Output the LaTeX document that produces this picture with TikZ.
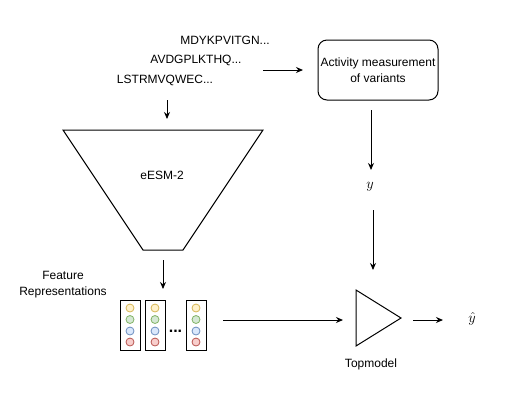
\documentclass[tikz,border=0pt]{standalone}
\usepackage{fontspec}
\setmainfont{Liberation Sans}
\usetikzlibrary{arrows.meta}
\definecolor{dotyellow}{RGB}{255,242,204}
\definecolor{dotyellowline}{RGB}{214,182,86}
\definecolor{dotgreen}{RGB}{213,232,212}
\definecolor{dotgreenline}{RGB}{130,179,102}
\definecolor{dotblue}{RGB}{218,232,252}
\definecolor{dotblueline}{RGB}{108,142,191}
\definecolor{dotred}{RGB}{248,206,204}
\definecolor{dotredline}{RGB}{184,84,80}

\begin{document}
\begin{tikzpicture}[x=1pt, y=-1pt, line width=1pt,
    every node/.style={font=\fontsize{12}{16}\selectfont, inner sep=0pt},
    flow/.style={-{Stealth[length=7pt,width=6pt]}},
    mathlabel/.style={font=\fontsize{14}{16}\selectfont},
    vecbox/.style={draw, minimum width=20pt, minimum height=50pt},
    dot/.style={circle, draw=#1line, fill=#1, line width=0.8pt, minimum size=8pt}]
    \useasboundingbox (0,0) rectangle (524,400);

    % === Input sequences ===
    \node (s1) at (225,40) {MDYKPVITGN...};
    \node (s2) at (196,60) {AVDGPLKTHQ...};
    \node (s3) at (165,80) {LSTRMVQWEC...};

    % === Activity measurement ===
    \node[draw,rounded corners=9pt,minimum width=120pt,minimum height=60pt,align=center] (act) at (378,70) {Activity measurement\\of variants};
    \coordinate (seqout) at (263,70);
    \coordinate (actin) at (303,70);
    \draw[flow] (seqout) -- (actin);

    % === eESM-2 encoder ===
    \draw (63,130) -- (263,130) -- (183,250) -- (143,250) -- cycle;
    \node (esm) at (162,175) {eESM-2};
    \coordinate (seqdown) at (167,100);
    \coordinate (esmin) at (167,119);
    \draw[flow] (seqdown) -- (esmin);

    % === Feature representations ===
    \node[align=center] (feat) at (63,285) {Feature\\Representations};
    \foreach \x/\n in {130/1,155/2,196/3} {
        \node[vecbox] (v\n) at (\x,325) {};
        \node[dot=dotyellow] (v\n a) at (\x,308) {};
        \node[dot=dotgreen] (v\n b) at (\x,319.5) {};
        \node[dot=dotblue] (v\n c) at (\x,331) {};
        \node[dot=dotred] (v\n d) at (\x,342) {};
    }
    \node[font=\fontsize{16}{18}\selectfont\bfseries,anchor=base] (dots) at (175.5,332) {...};
    \coordinate (esmout) at (163,260);
    \coordinate (featin) at (163,289);
    \draw[flow] (esmout) -- (featin);

    % === Measured activity ===
    \node[mathlabel] (y) at (370,187) {$y$};
    \coordinate (actout) at (371,110);
    \coordinate (yin) at (371,170);
    \draw[flow] (actout) -- (yin);

    % === Topmodel ===
    \draw (356,290) -- (401,318) -- (356,346) -- cycle;
    \node (top) at (371,364) {Topmodel};
    \coordinate (yout) at (373,210);
    \coordinate (topin) at (373,270);
    \draw[flow] (yout) -- (topin);
    \coordinate (featout) at (223,320);
    \coordinate (topleft) at (343,320);
    \draw[flow] (featout) -- (topleft);

    % === Prediction ===
    \node[mathlabel] (yhat) at (472,319) {$\hat{y}$};
    \coordinate (topout) at (413,320);
    \coordinate (yhatin) at (443,320);
    \draw[flow] (topout) -- (yhatin);
\end{tikzpicture}
\end{document}
